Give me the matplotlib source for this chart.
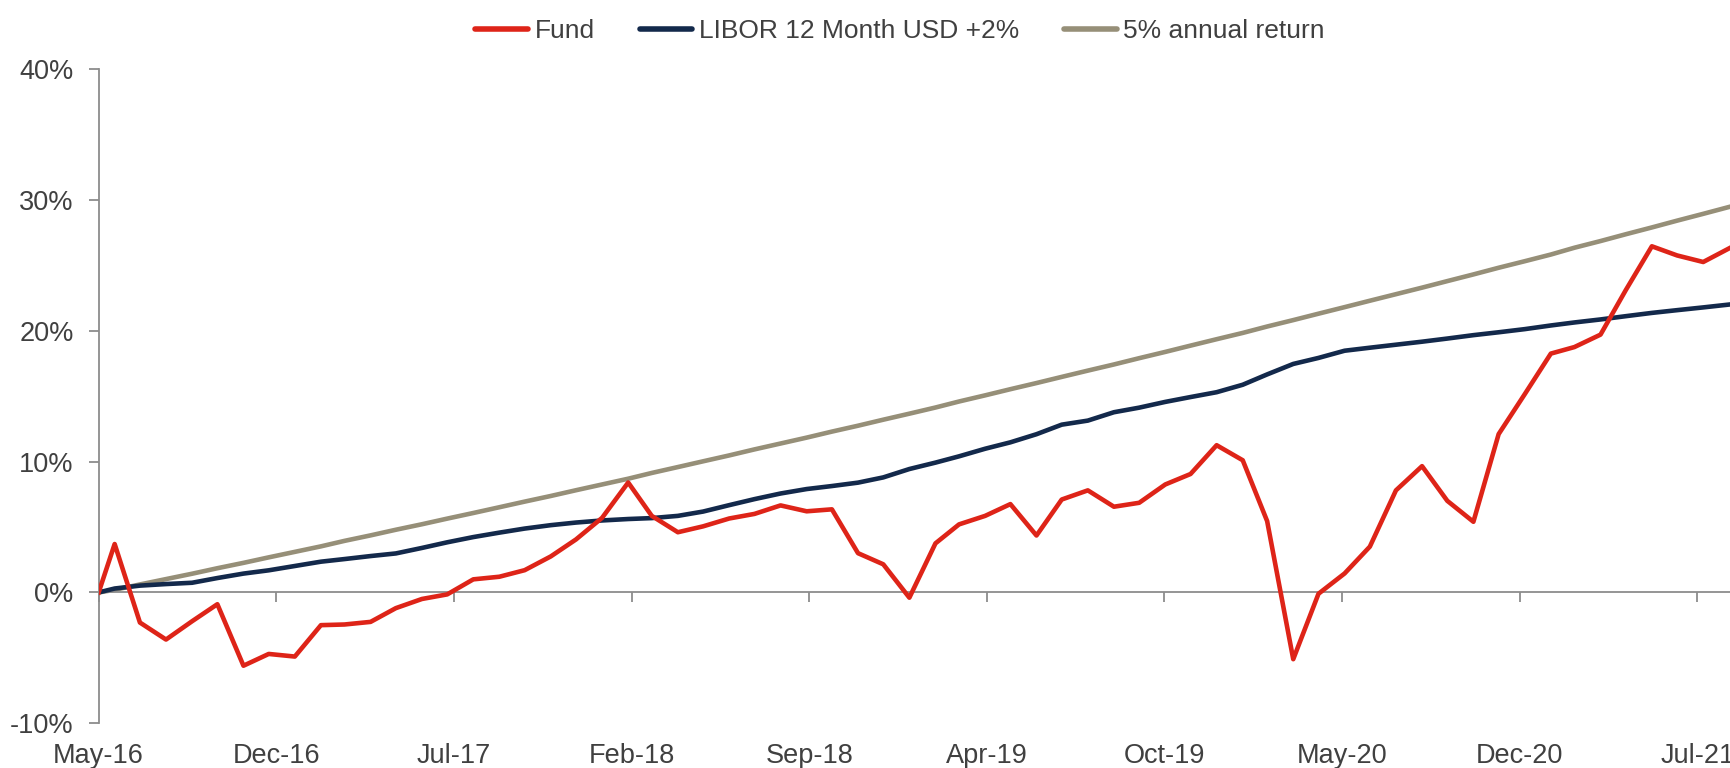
import numpy as np
import pandas as pd
import matplotlib
matplotlib.use('Agg')
import matplotlib.pyplot as plt
import matplotlib.transforms as mtransforms

plt.rcParams['font.family'] = ['Liberation Sans', 'DejaVu Sans']

# inception point, then month-end values May-16 .. Aug-21 (cumulative %)
INCEPTION = '2016-05-12'
MONTH_ENDS = pd.date_range('2016-05-31', periods=64, freq='ME')

fund = [
    3.70, -2.30, -3.60, -2.20, -0.90, -5.60, -4.70, -4.90,
    -2.50, -2.45, -2.25, -1.20, -0.50, -0.15, 1.00, 1.20, 1.70, 2.75, 4.05, 5.70,
    8.40, 5.85, 4.60, 5.05, 5.65, 6.00, 6.65, 6.20, 6.35, 3.00, 2.15, -0.40,
    3.75, 5.20, 5.85, 6.75, 4.35, 7.10, 7.80, 6.55, 6.85, 8.25, 9.05, 11.25,
    10.10, 5.45, -5.10, -0.10, 1.45, 3.50, 7.80, 9.65, 7.00, 5.40, 12.10, 15.15,
    18.25, 18.75, 19.70, 23.10, 26.45, 25.75, 25.25, 26.30,
]
libor = [
    0.30, 0.52, 0.64, 0.74, 1.10, 1.44, 1.69, 2.02,
    2.35, 2.55, 2.78, 2.98, 3.40, 3.83, 4.23, 4.57, 4.88, 5.14, 5.34, 5.50,
    5.61, 5.68, 5.85, 6.18, 6.67, 7.13, 7.56, 7.90, 8.13, 8.39, 8.79, 9.43,
    9.92, 10.40, 10.98, 11.47, 12.09, 12.82, 13.13, 13.77, 14.12, 14.56, 14.93, 15.30,
    15.87, 16.66, 17.46, 17.92, 18.47, 18.70, 18.93, 19.16, 19.40, 19.66, 19.88, 20.12,
    20.40, 20.63, 20.86, 21.11, 21.36, 21.57, 21.78, 22.00,
]
annual5 = [
    0.20, 0.61, 1.02, 1.43, 1.85, 2.26, 2.68, 3.10,
    3.52, 3.94, 4.36, 4.79, 5.21, 5.64, 6.07, 6.51, 6.94, 7.37, 7.81, 8.25,
    8.69, 9.13, 9.58, 10.02, 10.47, 10.93, 11.38, 11.83, 12.29, 12.74, 13.20, 13.66,
    14.13, 14.59, 15.06, 15.53, 16.00, 16.47, 16.95, 17.42, 17.90, 18.38, 18.86, 19.35,
    19.83, 20.32, 20.81, 21.30, 21.80, 22.29, 22.79, 23.29, 23.79, 24.30, 24.81, 25.31,
    25.82, 26.34, 26.85, 27.37, 27.89, 28.41, 28.93, 29.46,
]

tick_labels = ['May-16', 'Dec-16', 'Jul-17', 'Feb-18', 'Sep-18', 'Apr-19',
               'Oct-19', 'May-20', 'Dec-20', 'Jul-21']
TICK_STEP_DAYS = 211

RED = '#DE2418'
NAVY = '#13294B'
TAUPE = '#968F78'
AXIS = '#8C8C8C'
TEXT = '#404040'

dates = pd.DatetimeIndex([pd.Timestamp(INCEPTION)]).append(MONTH_ENDS)
fund_s = np.r_[0.0, fund]
libor_s = np.r_[0.0, libor]
annual_s = np.r_[0.0, annual5]

fig = plt.figure(figsize=(17.31, 7.68), dpi=100)
ax = fig.add_axes([0.0570, 0.0582, 0.9430, 0.8520])

lw = 3.3
ax.plot(dates, annual_s, color=TAUPE, lw=lw, label='5% annual return', zorder=2)
ax.plot(dates, libor_s, color=NAVY, lw=lw, label='LIBOR 12 Month USD +2%', zorder=3)
ax.plot(dates, fund_s, color=RED, lw=lw, label='Fund', zorder=4)

start = pd.Timestamp(INCEPTION)
ax.set_xlim(start, pd.Timestamp('2021-09-02'))
ax.set_ylim(-10, 40)

ax.set_yticks(np.arange(-10, 41, 10))
ax.set_yticklabels([f'{v}%' for v in range(-10, 41, 10)])

tick_dates = [start + pd.Timedelta(days=TICK_STEP_DAYS * k) for k in range(len(tick_labels))]
ax.set_xticks(tick_dates)
ax.set_xticklabels([])

for side in ['top', 'right']:
    ax.spines[side].set_visible(False)
ax.spines['bottom'].set_position(('data', 0))
for side in ['left', 'bottom']:
    ax.spines[side].set_color(AXIS)
    ax.spines[side].set_linewidth(1.3)
ax.tick_params(axis='both', direction='out', length=7, width=1.3, color=AXIS,
               labelcolor=TEXT, labelsize=19.5)
ax.tick_params(axis='y', pad=11)

trans = mtransforms.blended_transform_factory(ax.transData, fig.transFigure)
for d, lab in zip(tick_dates, tick_labels):
    ax.text(d, 12 / 768, lab, transform=trans, ha='center', va='center',
            fontsize=19.5, color=TEXT, clip_on=False)

handles, labels = ax.get_legend_handles_labels()
order = [2, 1, 0]
leg = fig.legend([handles[i] for i in order], [labels[i] for i in order],
                 loc='center', bbox_to_anchor=(0.52, 1 - 31 / 768), ncol=3,
                 frameon=False, fontsize=19, handlelength=2.0,
                 handletextpad=0.25, columnspacing=1.7)
for t in leg.get_texts():
    t.set_color(TEXT)
for h in leg.legend_handles:
    h.set_linewidth(4.0)
    h.set_solid_capstyle('round')

fig.savefig('out.png', dpi=100, facecolor='white')
